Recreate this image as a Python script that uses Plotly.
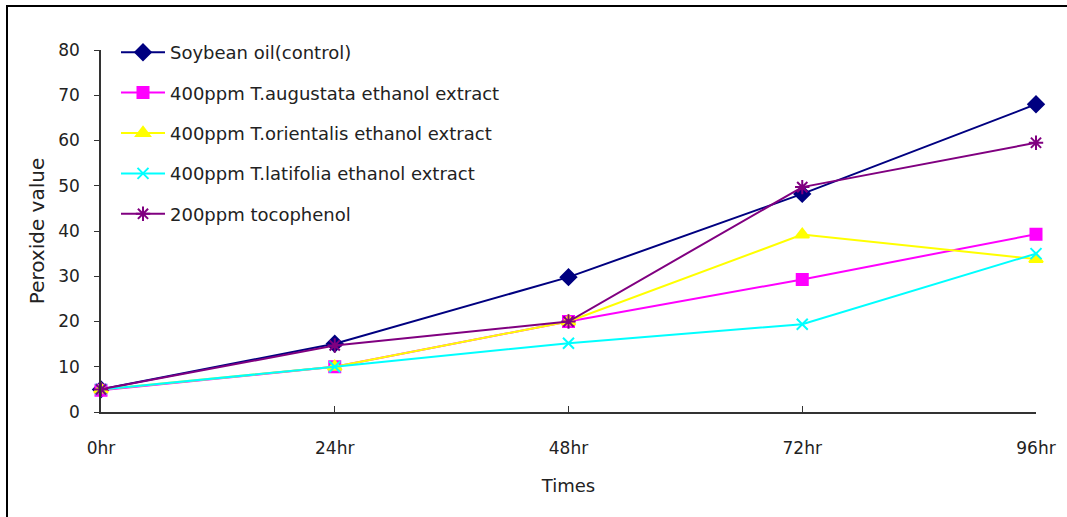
import plotly.graph_objects as go

# Sampling times (hours) and their tick labels
hours = [0, 24, 48, 72, 96]
hour_labels = ["0hr", "24hr", "48hr", "72hr", "96hr"]

# Peroxide values per treatment
soybean_control = [5.0, 15.1, 29.8, 48.2, 68.0]
t_augustata = [4.8, 10.0, 20.0, 29.3, 39.3]
t_orientalis = [5.0, 10.0, 20.0, 39.2, 33.8]
t_latifolia = [5.0, 10.0, 15.2, 19.4, 35.0]
tocophenol = [5.0, 14.7, 20.0, 49.7, 59.5]

series = [
    ("Soybean oil(control)", soybean_control, "#000080", "diamond", 12),
    ("400ppm T.augustata ethanol extract", t_augustata, "#FF00FF", "square", 11),
    ("400ppm T.orientalis ethanol extract", t_orientalis, "#FFFF00", "triangle-up", 12),
    ("400ppm T.latifolia ethanol extract", t_latifolia, "#00FFFF", "x-thin-open", 11),
    ("200ppm tocophenol", tocophenol, "#800080", "asterisk-open", 12),
]

FONT = "DejaVu Sans, Liberation Sans, sans-serif"

fig = go.Figure()
for i, (name, vals, color, symbol, size) in enumerate(series):
    fig.add_trace(go.Scatter(
        x=hours, y=vals, name=name, mode="lines+markers",
        line=dict(color=color, width=2),
        marker=dict(symbol=symbol, size=size, color=color,
                    line=dict(color=color, width=2)),
        legendgroup=f"g{i}",
        cliponaxis=False,
    ))

W, H = 1067, 517
L, R, T, B = 101, 31, 50, 105
pw, ph = W - L - R, H - T - B

def px_x(p):
    return (p - L) / pw

def px_y(p):
    return (H - B - p) / ph

fig.update_layout(
    width=W, height=H,
    margin=dict(l=L, r=R, t=T, b=B),
    paper_bgcolor="white", plot_bgcolor="white",
    font=dict(family=FONT, size=17, color="#222222"),
    showlegend=True,
    legend=dict(
        x=px_x(116), y=px_y(34), xanchor="left", yanchor="top",
        bgcolor="rgba(0,0,0,0)", font=dict(size=18, color="#222222"),
        traceorder="grouped", tracegroupgap=14, itemwidth=44,
    ),
    xaxis=dict(
        range=[0, 96], tickvals=hours, ticktext=hour_labels,
        showline=True, linecolor="#333333", linewidth=1.5,
        ticks="inside", ticklen=6, tickcolor="#333333",
        showgrid=False, zeroline=False,
        ticklabelstandoff=20,
        tickfont=dict(size=17),
        title=dict(text="Times", font=dict(size=18), standoff=22),
    ),
    yaxis=dict(
        range=[0, 80], dtick=10,
        showline=True, linecolor="#333333", linewidth=1.5,
        ticks="outside", ticklen=5, tickcolor="#333333",
        showgrid=False, zeroline=False,
        ticklabelstandoff=11,
        tickfont=dict(size=17),
        title=dict(text="Peroxide value", font=dict(size=20), standoff=8),
    ),
    shapes=[dict(
        type="rect", xref="paper", yref="paper",
        x0=px_x(7), x1=px_x(1080), y0=px_y(530), y1=px_y(6),
        line=dict(color="black", width=2), fillcolor="rgba(0,0,0,0)",
        layer="below",
    )],
)

fig.write_html("out.html")
